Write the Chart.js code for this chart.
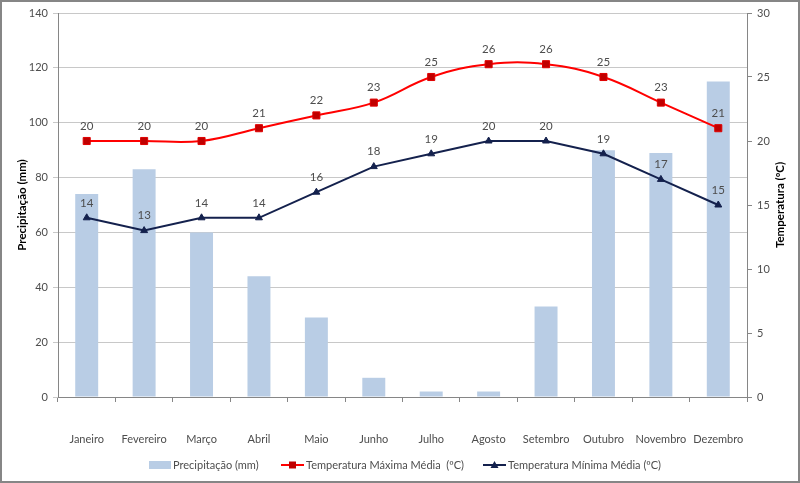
<!DOCTYPE html>
<html><head><meta charset="utf-8">
<script src="https://cdn.jsdelivr.net/npm/chart.js@4/dist/chart.umd.min.js"></script>
<style>html,body{margin:0;padding:0;background:#fff}#w{width:800px;height:483px}</style>
</head><body><div id="w"><canvas id="c" width="800" height="483"></canvas></div>
<script>
const categories = ['Janeiro','Fevereiro','Março','Abril','Maio','Junho','Julho','Agosto','Setembro','Outubro','Novembro','Dezembro'];
const precipitacao = [74,83,60,44,29,7,2,2,33,90,89,115];
const tempMax = [20,20,20,21,22,23,25,26,26,25,23,21];
const tempMin = [14,13,14,14,16,18,19,20,20,19,17,15];
const seriesNames = ['Precipitação (mm)','Temperatura Máxima Média  (ºC)','Temperatura Mínima Média (ºC)'];
const leftTitle = 'Precipitação (mm)';
const rightTitle = 'Temperatura (ºC)';

const FONT = 'Lato, "Open Sans", sans-serif';
const TXT = '#4d4d4d';
const BAR = '#b9cde5', RED = '#ff0000', RED_M = '#c00000', NAVY = '#14214d';

const extras = {
  id: 'extras',
  afterDatasetsDraw(chart) {
    const ctx = chart.ctx;
    ctx.save();
    ctx.font = '11.5px ' + FONT;
    ctx.fillStyle = TXT;
    ctx.textAlign = 'center';
    ctx.textBaseline = 'middle';
    [1, 2].forEach(i => {
      const meta = chart.getDatasetMeta(i);
      const vals = chart.data.datasets[i].data;
      meta.data.forEach((p, j) => ctx.fillText(String(vals[j]), p.x, p.y - 15));
    });
    ctx.restore();
  },
  afterDraw(chart) {
    const ctx = chart.ctx;
    const ca = chart.chartArea;
    ctx.save();
    // axis titles
    ctx.font = 'bold 11.5px ' + FONT;
    ctx.fillStyle = '#000';
    ctx.textAlign = 'center';
    ctx.textBaseline = 'middle';
    const cy = (ca.top + ca.bottom) / 2;
    ctx.save(); ctx.translate(22, cy); ctx.rotate(-Math.PI / 2); ctx.fillText(leftTitle, 0, 0); ctx.restore();
    ctx.save(); ctx.translate(780, cy); ctx.rotate(-Math.PI / 2); ctx.fillText(rightTitle, 0, 0); ctx.restore();
    // legend
    ctx.font = '11px ' + FONT;
    ctx.fillStyle = TXT;
    ctx.textAlign = 'left';
    const ly = 465;
    ctx.fillStyle = BAR; ctx.fillRect(149, ly - 4, 22, 8);
    ctx.fillStyle = TXT; ctx.fillText(seriesNames[0], 173, ly);
    ctx.strokeStyle = RED; ctx.lineWidth = 2;
    ctx.beginPath(); ctx.moveTo(281, ly); ctx.lineTo(304, ly); ctx.stroke();
    ctx.fillStyle = RED_M; ctx.fillRect(289, ly - 3.5, 7, 7);
    ctx.fillStyle = TXT; ctx.fillText(seriesNames[1], 306, ly);
    ctx.strokeStyle = NAVY;
    ctx.beginPath(); ctx.moveTo(483, ly); ctx.lineTo(506, ly); ctx.stroke();
    ctx.fillStyle = NAVY; ctx.beginPath(); ctx.moveTo(494.5, ly - 4); ctx.lineTo(498.5, ly + 3); ctx.lineTo(490.5, ly + 3); ctx.closePath(); ctx.fill();
    ctx.fillStyle = TXT; ctx.fillText(seriesNames[2], 508, ly);
    // outer border
    ctx.strokeStyle = '#868686'; ctx.lineWidth = 2;
    ctx.strokeRect(1, 1, 798, 481);
    ctx.restore();
  }
};

new Chart(document.getElementById('c'), {
  data: {
    labels: categories,
    datasets: [
      { type: 'bar', label: seriesNames[0], data: precipitacao, yAxisID: 'y', backgroundColor: BAR,
        categoryPercentage: 1, barPercentage: 0.4, order: 3 },
      { type: 'line', label: seriesNames[1], data: tempMax, yAxisID: 'y1', borderColor: RED, borderWidth: 2,
        tension: 0.4, pointStyle: 'rect', pointRadius: 5, pointBackgroundColor: RED_M, pointBorderColor: '#e00000',
        pointBorderWidth: 1, fill: false, order: 1 },
      { type: 'line', label: seriesNames[2], data: tempMin, yAxisID: 'y1', borderColor: NAVY, borderWidth: 2,
        tension: 0, pointStyle: 'triangle', pointRadius: 4, pointBackgroundColor: NAVY, pointBorderColor: NAVY,
        pointBorderWidth: 1, fill: false, order: 2 }
    ]
  },
  options: {
    responsive: false,
    animation: false,
    layout: { padding: { top: 13, left: 0, right: 0, bottom: 0 } },
    plugins: { legend: { display: false }, tooltip: { enabled: false } },
    scales: {
      x: {
        offset: true,
        grid: { offset: true, drawOnChartArea: false, drawTicks: true, tickLength: 5, color: '#868686' },
        border: { color: '#868686' },
        ticks: { padding: 31, color: TXT, font: { family: FONT, size: 11 }, maxRotation: 0, autoSkip: false },
        afterFit: s => { s.height = 86; }
      },
      y: {
        position: 'left', min: 0, max: 140,
        grid: { color: '#c8c8c8', tickLength: 5 },
        border: { color: '#868686' },
        ticks: { stepSize: 20, padding: 5, color: TXT, font: { family: FONT, size: 11 } },
        afterFit: s => { s.width = 58; }
      },
      y1: {
        position: 'right', min: 0, max: 30,
        grid: { drawOnChartArea: false, tickLength: 5, color: '#868686' },
        border: { color: '#868686' },
        ticks: { stepSize: 5, padding: 5, color: TXT, font: { family: FONT, size: 11 } },
        afterFit: s => { s.width = 53; }
      }
    }
  },
  plugins: [extras]
});
</script>
</body></html>
